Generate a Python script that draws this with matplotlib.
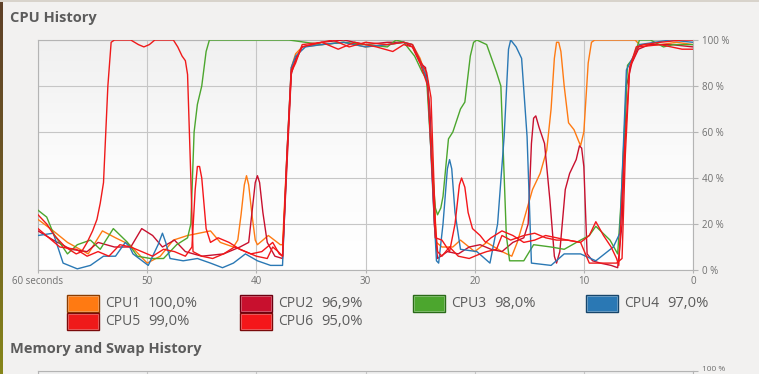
import matplotlib
matplotlib.use("Agg")
import matplotlib.pyplot as plt
from matplotlib.colors import LinearSegmentedColormap
from matplotlib.patches import Rectangle
import numpy as np

plt.rcParams['font.family'] = ['Open Sans', 'DejaVu Sans']

# (seconds ago, % usage)
cpu1 = [(60, 22), (58.6, 17), (57.3, 12), (55.4, 7), (54.1, 17), (52.9, 14), (51.6, 11), (50, 3),
        (48.8, 6), (47.6, 13), (46.3, 15), (44.2, 17), (43.3, 12), (42.1, 10), (41.7, 13), (41.4, 24),
        (41.1, 37), (40.9, 41), (40.7, 37), (40.4, 24), (40.1, 13), (39.9, 11), (38.9, 15), (37.8, 11),
        (37.6, 11), (37.2, 50), (36.8, 88), (36.4, 94), (35.8, 97), (34, 98), (32, 99), (30, 97),
        (28, 98), (26.5, 99), (25.7, 98), (25, 92), (24.3, 82), (23.9, 50), (23.5, 12), (23, 10),
        (22, 10), (21.3, 13), (20, 8), (18.9, 12), (17.5, 8), (16.6, 6), (16.1, 12), (15.6, 20),
        (14.7, 35), (14, 42), (13.4, 52), (13, 70), (12.7, 92), (12.5, 99), (12.3, 99), (12.1, 95),
        (11.8, 80), (11.4, 64), (10.9, 61), (10.3, 54), (10.0, 60), (9.6, 90), (9.3, 99), (9.0, 100),
        (5.3, 100), (4.9, 98), (3, 98), (1.5, 99), (0, 98)]

cpu2 = [(60, 17), (58.6, 13), (57, 9), (55.5, 8), (54.5, 12), (53, 10), (51.5, 10), (50.5, 18),
        (49.5, 15), (48.6, 10), (47.5, 13), (46.5, 8), (45, 6), (43, 7), (41.5, 10), (40.7, 12),
        (40.4, 25), (40.1, 38), (39.9, 41), (39.7, 38), (39.4, 25), (39, 12), (38.3, 6), (37.6, 5),
        (37.2, 45), (36.8, 85), (36.4, 92), (35.8, 97), (34, 99), (32, 100), (30, 98), (28, 99),
        (26.5, 99), (25.7, 97), (25, 90), (24.5, 88), (24.1, 70), (23.7, 20), (23.4, 5), (22.5, 8),
        (21.5, 7), (20.5, 10), (19.5, 11), (18.5, 9), (17.5, 8), (16.5, 12), (15.5, 14), (15.1, 20),
        (14.8, 55), (14.6, 66), (14.4, 67), (14.1, 62), (13.6, 55), (13.1, 30), (12.7, 6), (12.5, 3),
        (12.2, 8), (11.7, 35), (11.3, 42), (10.7, 48), (10.4, 54), (10.2, 53), (10, 45), (9.7, 7),
        (9.2, 4), (8.5, 3), (7.5, 2), (6.9, 1), (6.5, 20), (6.1, 80), (5.6, 90), (5, 96), (4, 98),
        (2, 98), (0, 97)]

cpu3 = [(60, 26), (59.2, 23), (58.6, 16), (57.3, 7), (56.4, 11), (55.2, 13), (54.3, 9), (53.1, 18),
        (51.8, 12), (50.9, 6), (49.7, 5), (48.5, 5), (47.3, 11), (46.3, 14), (46, 20), (45.7, 60),
        (45.4, 72), (45, 80), (44.6, 95), (44.3, 100), (37, 100), (35.5, 99), (34, 98), (32, 99),
        (30, 98), (28, 97), (27.2, 100), (26.5, 99), (25.5, 93), (24.8, 86), (24.4, 83), (23.9, 44),
        (23.6, 27), (23.4, 24), (23.1, 27), (22.9, 32), (22.4, 57), (22, 60), (21.3, 70), (20.9, 73),
        (20.4, 93), (20.1, 99), (19.8, 100), (18.9, 98), (18, 86), (17.6, 80), (17.1, 15), (16.8, 4),
        (15.5, 4), (14.6, 11), (13, 10), (11.8, 9), (10.3, 13), (9.5, 15), (8.9, 19), (7.6, 13),
        (6.9, 7), (6.6, 29), (6, 89), (5.5, 92), (4.9, 100), (3.9, 100), (2.7, 97), (1.8, 98), (0, 98)]

cpu4 = [(60, 15), (58.6, 16), (57.7, 3), (56.4, 0.5), (55.2, 2), (54, 6), (52.9, 6), (52.3, 10),
        (52, 12), (51.6, 10), (51.3, 7), (49.9, 2), (49, 11), (48.6, 16), (48.3, 12), (47.9, 5),
        (46.7, 4), (45.4, 5), (44.2, 3), (43.1, 1), (42.1, 3), (41, 7), (39.9, 4), (38.7, 2), (37.6, 2),
        (37.2, 50), (36.8, 88), (36.4, 93), (35.5, 97), (34, 98), (32, 99), (30, 97), (28, 98),
        (26.5, 99), (25.7, 98), (25, 91), (24.3, 82), (23.9, 40), (23.5, 4), (23.3, 3), (22.9, 20),
        (22.5, 44), (22.3, 48), (22.1, 44), (21.8, 25), (21.3, 9), (19.8, 8), (18.6, 3), (17.9, 20),
        (17.3, 58), (16.9, 96), (16.7, 100), (16.2, 97), (15.7, 92), (15.2, 58), (14.8, 3), (13, 2),
        (11.8, 7), (10.3, 7), (8.9, 4), (7.3, 10), (6.7, 16), (6.1, 87), (4.9, 98), (2.1, 100), (0, 99)]

cpu5 = [(60, 24), (59.2, 20), (58.5, 15), (57.5, 10), (56.5, 7), (56, 8), (55.5, 12), (55, 17),
        (54.6, 22), (54.3, 29), (54, 38), (53.6, 80), (53.3, 99), (53.0, 100), (51.5, 100), (50.8, 98),
        (50.3, 97), (49.8, 98), (49.3, 100), (47.6, 100), (47.2, 97), (46.8, 93), (46.5, 91), (46.3, 85),
        (46, 40), (45.8, 8), (45, 6), (44, 5), (43, 7), (42, 10), (41, 8), (40, 6), (39, 5), (38.5, 10),
        (38, 8), (37.6, 6), (37.2, 48), (36.8, 86), (36.4, 90), (35.8, 98), (34, 99), (33, 100),
        (31.5, 97), (30, 99), (28, 98), (26.5, 99), (25.7, 98), (25, 91), (24.4, 86), (24, 75),
        (23.6, 20), (23.4, 8), (23, 6), (22.3, 10), (21.5, 6), (20.5, 5), (19.5, 7), (18.9, 8), (18, 9),
        (17.5, 15), (16.7, 13), (15.5, 15), (14.5, 16), (13.5, 14), (12.5, 13), (11.5, 13), (10.3, 12),
        (9.5, 3), (8, 3), (7, 3), (6.5, 5), (6.2, 50), (5.8, 88), (5.2, 97), (4.5, 98), (3, 99),
        (1, 100), (0, 100)]

cpu6 = [(60, 18), (59, 14), (58, 10), (56.5, 9), (55.5, 6), (54.5, 8), (53.5, 6), (52.5, 11),
        (51.5, 10), (50.5, 8), (49.5, 6), (48.5, 9), (47.5, 8), (46.5, 6), (45.9, 10), (45.6, 35),
        (45.4, 45), (45.2, 45), (45, 40), (44.6, 18), (44.2, 12), (43.5, 14), (42.5, 12), (41.5, 9),
        (40.5, 7), (39.5, 8), (38.5, 12), (37.9, 7), (37.6, 6), (37.2, 50), (36.8, 87), (36.4, 91),
        (35.8, 97), (34, 99), (32.5, 96), (31, 99), (29, 97), (27.5, 95), (26.5, 98), (25.7, 97),
        (25, 90), (24.3, 80), (23.6, 14), (23, 13), (22.3, 8), (21.8, 20), (21.4, 37), (21.2, 40),
        (20.9, 36), (20.6, 25), (20.2, 18), (19.5, 15), (19, 12), (18.5, 14), (17.5, 17), (16.5, 15),
        (15.5, 12), (14.5, 13), (13.5, 15), (12.5, 14), (11.5, 13), (10.3, 12), (9.5, 15), (8.9, 21),
        (8.2, 15), (7.5, 10), (7, 5), (6.8, 2), (6.3, 50), (5.8, 88), (5, 97), (3, 98), (1, 96), (0, 96)]

names = ['CPU1', 'CPU2', 'CPU3', 'CPU4', 'CPU5', 'CPU6']
current = ['100,0%', '96,9%', '98,0%', '97,0%', '99,0%', '95,0%']
series = [cpu1, cpu2, cpu3, cpu4, cpu5, cpu6]
colors = ['#ff7a12', '#c8102e', '#4ca62e', '#2a78b4', '#ef1a1a', '#f4161a']
edge_colors = ['#8a3c00', '#6a0010', '#2a6a18', '#17456a', '#7a0a0a', '#7a0a0a']

x_ticks = [60, 50, 40, 30, 20, 10, 0]
x_labels = ['60 seconds', '50', '40', '30', '20', '10', '0']
y_ticks = [0, 20, 40, 60, 80, 100]
y_labels = ['0 %', '20 %', '40 %', '60 %', '80 %', '100 %']

W, H = 759, 374
BG = '#f2f1f0'
GRID = '#c6c6c6'
TXT = '#5c5c5c'
TICK_TXT = '#707070'


def px(x0, y0, x1, y1):
    return [x0 / W, 1 - y1 / H, (x1 - x0) / W, (y1 - y0) / H]


def style_axes(ax):
    grad = np.linspace(0, 1, 256).reshape(-1, 1)
    cmap = LinearSegmentedColormap.from_list('bg', ['#f0f0f0', '#fbfbfb', '#ffffff'])
    ax.imshow(grad, cmap=cmap, extent=(60, 0, 0, 100), aspect='auto', zorder=0)
    ax.set_xlim(60, 0)
    ax.set_ylim(0, 100)
    ax.set_xticks(x_ticks)
    ax.set_xticklabels(x_labels)
    ax.set_yticks(y_ticks)
    ax.set_yticklabels(y_labels)
    ax.yaxis.tick_right()
    ax.grid(True, color=GRID, lw=0.8, zorder=1)
    for s in ax.spines.values():
        s.set_color('#b4b4b4')
        s.set_linewidth(0.8)
    ax.tick_params(axis='x', length=2.2, width=0.8, color='#b4b4b4', pad=2,
                   labelsize=7, labelcolor=TICK_TXT)
    ax.tick_params(axis='y', length=3.6, width=0.8, color='#b4b4b4', pad=3,
                   labelsize=7, labelcolor=TICK_TXT)


fig = plt.figure(figsize=(W / 100, H / 100), dpi=100, facecolor=BG)

ax = fig.add_axes(px(38, 40, 693, 270))
style_axes(ax)
for data, c in zip(series, colors):
    t = [p[0] for p in data]
    v = [p[1] for p in data]
    ax.plot(t, v, color=c, lw=1.0, solid_joinstyle='round', zorder=3)

# memory panel, only its top edge shows
ax2 = fig.add_axes(px(38, 371, 693, 601))
style_axes(ax2)
ax2.set_xticklabels([])
ax2.set_yticklabels([])

# overlay for titles, legend and window edge
ov = fig.add_axes([0, 0, 1, 1], zorder=5)
ov.set_xlim(0, W)
ov.set_ylim(H, 0)
ov.axis('off')

ov.text(10, 18, 'CPU History', fontsize=10.5, fontweight='bold', color=TXT, va='center', ha='left')
ov.text(10, 349, 'Memory and Swap History', fontsize=10.5, fontweight='bold', color=TXT,
        va='center', ha='left')
# memory panel's top tick label, lifted so it stays inside the picture
ov.text(702, 373, '100 %', fontsize=6, color=TICK_TXT, va='bottom', ha='left')

col_x = [67, 240, 413, 586]
row_y = [295, 313]
for i, (name, val) in enumerate(zip(names, current)):
    x0 = col_x[i % 4]
    y0 = row_y[i // 4]
    ov.add_patch(Rectangle((x0, y0), 32, 17, facecolor=colors[i], edgecolor=edge_colors[i], lw=1))
    ov.add_patch(Rectangle((x0 + 1.2, y0 + 1.2), 29.6, 14.6, facecolor='none',
                           edgecolor='white', lw=0.6, alpha=0.35))
    ov.text(x0 + 38, y0 + 8.8, name, fontsize=10, color=TXT, va='center', ha='left')
    ov.text(x0 + 81, y0 + 8.8, val, fontsize=10.6, color=TXT, va='center', ha='left')

# window edge on the left and top
edge = np.linspace(0, 1, 64).reshape(-1, 1)
ecmap = LinearSegmentedColormap.from_list('edge', ['#5e4028', '#6f5a24', '#86861a'])
ov.imshow(edge, cmap=ecmap, extent=(0, 2.5, H, 0), aspect='auto', zorder=6)
ov.add_patch(Rectangle((0, 0), W, 1.5, facecolor='#d8d3cb', edgecolor='none', zorder=6))
ov.set_xlim(0, W)
ov.set_ylim(H, 0)

fig.savefig('out.png', dpi=100, facecolor=BG)
